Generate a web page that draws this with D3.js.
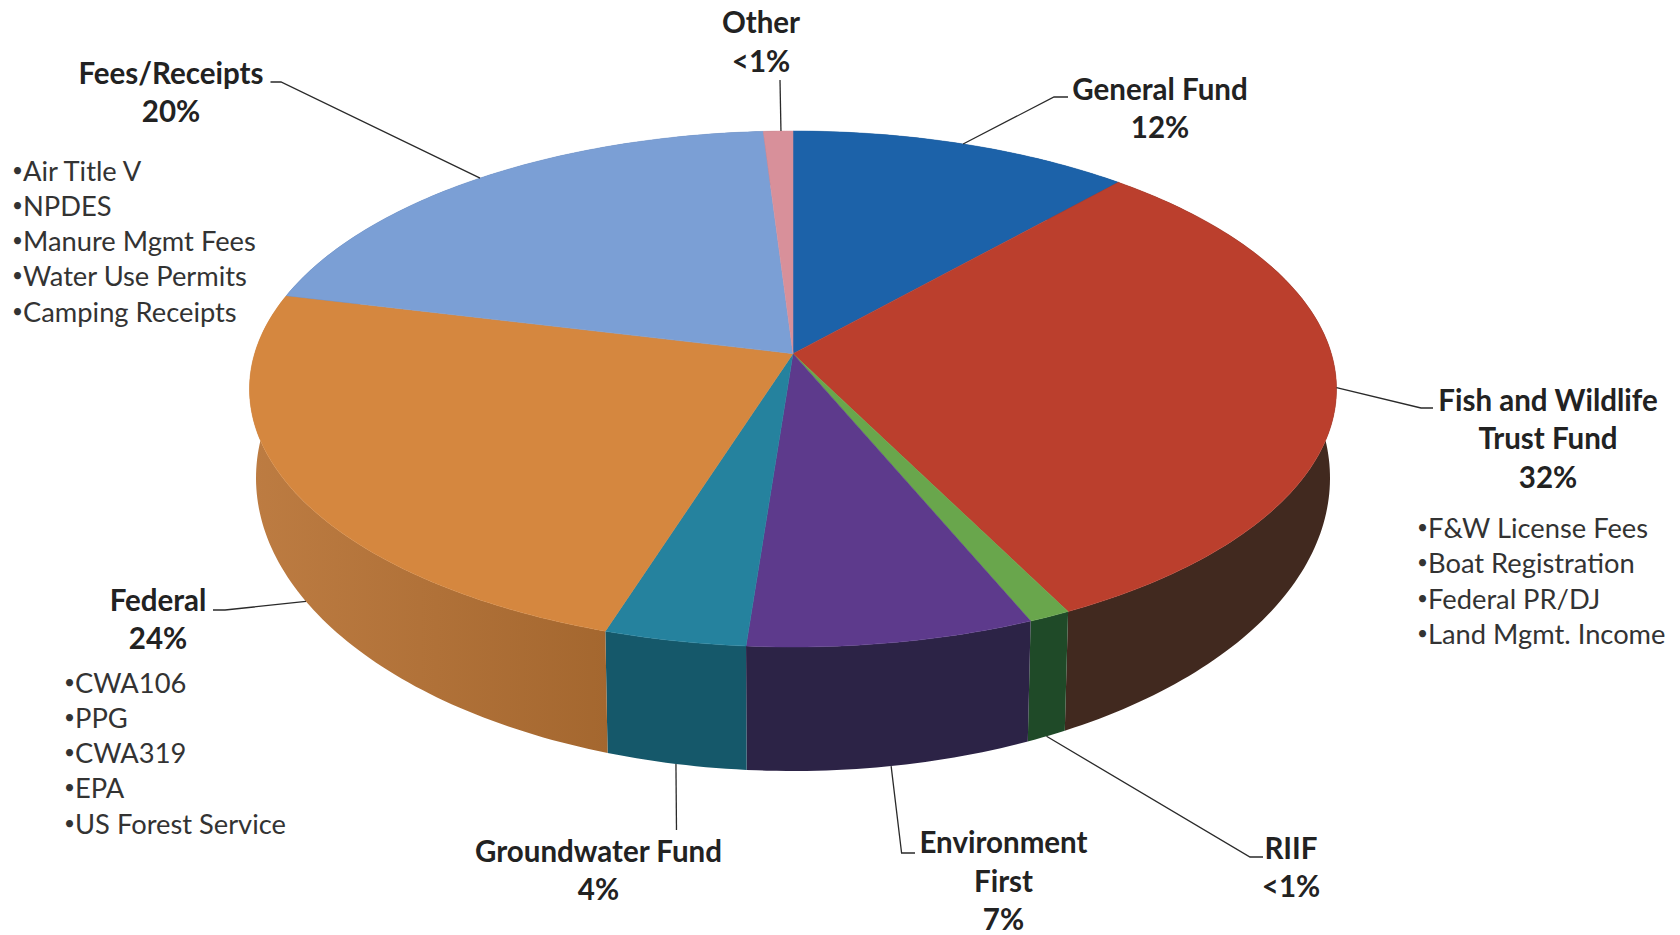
<!DOCTYPE html>
<html>
<head>
<meta charset="utf-8">
<script src="https://cdn.jsdelivr.net/npm/d3@7"></script>
<style>
  html, body { margin: 0; background: #fff; }
  svg { display: block; }
  text { font-family: Lato, "Open Sans", sans-serif; }
</style>
</head>
<body>
<div id="chart"></div>
<script>
// slices, clockwise from 12 o'clock
const categories = ["General Fund", "Fish and Wildlife Trust Fund", "RIIF", "Environment First", "Groundwater Fund", "Federal", "Fees/Receipts", "Other"];
const values = [11.6, 31.0, 1.1, 7.5, 3.7, 23.9, 20.2, 1.0];
const shownPct = ["12%", "32%", "<1%", "7%", "4%", "24%", "20%", "<1%"];

const titleLines = [["General Fund"], ["Fish and Wildlife", "Trust Fund"], ["RIIF"], ["Environment", "First"], ["Groundwater Fund"], ["Federal"], ["Fees/Receipts"], ["Other"]];
const feesItems = ["Air Title V", "NPDES", "Manure Mgmt Fees", "Water Use Permits", "Camping Receipts"];
const federalItems = ["CWA106", "PPG", "CWA319", "EPA", "US Forest Service"];
const fishItems = ["F&W License Fees", "Boat Registration", "Federal PR/DJ", "Land Mgmt. Income"];

const topColors = ["#1c62a9", "#bb3f2d", "#69a64c", "#5d3a8c", "#25829e", "#d5873f", "#7b9fd5", "#d8909a"];
const sideColors = ["#123f6e", "#41291f", "#1f4a28", "#2c2346", "#15586a", "url(#federal-side)", "#4d6a96", "#8c5c63"];

const width = 1680, height = 935;

// top and bottom rim of the drum, as seen in perspective
const topRim = { cx: 793, cy: 389, rx: 543.5, ry: 258 };
const botRim = { cx: 793, cy: 478, rx: 537, ry: 293 };
const tilt = -0.137; // centre of the pie sits above the centre of the ellipse

function project(a, rim) {
    let u = Math.sin(a), v = -Math.cos(a);
    let w = 1 + tilt * v;
    return [rim.cx + rim.rx * u * Math.sqrt(1 - tilt * tilt) / w,
            rim.cy + rim.ry * (v + tilt) / w];
}
function centre(rim) {
    return [rim.cx, rim.cy + rim.ry * tilt];
}

const svg = d3.select("#chart").append("svg")
    .attr("width", width)
    .attr("height", height)
    .attr("viewBox", [0, 0, width, height]);

// orange wall fades a little from left to right
const grad = svg.append("defs").append("linearGradient")
    .attr("id", "federal-side");
grad.append("stop").attr("offset", "0%").attr("stop-color", "#bd7c42");
grad.append("stop").attr("offset", "100%").attr("stop-color", "#a4672f");

const pie = d3.pie().sort(null).value(d => d);
const slices = pie(values);
const top_color = d3.scaleOrdinal().domain(categories).range(topColors);
const side_color = d3.scaleOrdinal().domain(categories).range(sideColors);
const line = d3.line();

function arcAngles(d) {
    let n = Math.max(2, Math.ceil((d.endAngle - d.startAngle) * 60));
    return d3.range(n + 1).map(i => d.startAngle + (d.endAngle - d.startAngle) * i / n);
}

// side wall first, one small quad per step so the outline follows the drum
svg.append("g").selectAll("path")
    .data(slices)
    .join("path")
    .attr("d", d => {
        let angles = arcAngles(d);
        return d3.pairs(angles).map(([a, b]) =>
            line([project(a, topRim), project(b, topRim), project(b, botRim), project(a, botRim)]) + "Z"
        ).join("");
    })
    .attr("fill", (d, i) => side_color(categories[i]));

svg.append("g").selectAll("path")
    .data(slices)
    .join("path")
    .attr("d", d => line([centre(topRim)].concat(arcAngles(d).map(a => project(a, topRim)))) + "Z")
    .attr("fill", (d, i) => top_color(categories[i]))
    .attr("stroke", (d, i) => top_color(categories[i]))
    .attr("stroke-width", 0.5);

// label placement, same order as categories
const titleX = [1160, 1548, 1291, 1003.5, 598.5, 158, 171, 761];
const titleY = [99.5, 410.5, 858.5, 853, 861.5, 610.5, 83.5, 33];
// leader: which rim it leaves from, a small angle off the slice middle, then the points towards the label
const leaderRim = [topRim, topRim, botRim, botRim, botRim, botRim, topRim, topRim];
const leaderOffset = [0, 0, 0, 0, 0, -0.044, 0, 0.006];
const leaderEnd = [
    [[1054, 97], [1068, 97]],
    [[1421, 408], [1433, 408]],
    [[1250, 857], [1263, 857]],
    [[901.6, 853], [915, 853]],
    [[676.5, 830]],
    [[225, 610], [213, 610]],
    [[281, 82], [270.5, 82]],
    [[780, 80]]
];
const lineStep = 38.6;

svg.append("g").selectAll("path")
    .data(slices)
    .join("path")
    .attr("d", (d, i) => line([project((d.startAngle + d.endAngle) / 2 + leaderOffset[i], leaderRim[i])].concat(leaderEnd[i])))
    .attr("fill", "none")
    .attr("stroke", "#2a2a2a")
    .attr("stroke-width", 1.3);

const titles = svg.append("g").selectAll("text")
    .data(categories)
    .join("text")
    .attr("text-anchor", "middle")
    .attr("font-size", 29.5)
    .attr("font-weight", 700)
    .attr("fill", "#222");

titles.selectAll("tspan")
    .data((d, i) => titleLines[i].concat(shownPct[i]).map(t => ({ t, i })))
    .join("tspan")
    .attr("x", d => titleX[d.i])
    .attr("y", (d, j) => titleY[d.i] + j * lineStep)
    .text(d => d.t);

// bullet lists beside three of the labels
function bulletList(items, x, y) {
    let rows = svg.append("g").selectAll("text")
        .data(items)
        .join("text")
        .attr("x", x)
        .attr("y", (d, i) => y + i * 35.3)
        .attr("font-size", 27.3)
        .attr("fill", "#333");
    rows.append("tspan").attr("font-size", 19).attr("dy", -4).text("\u2022");
    rows.append("tspan").attr("dy", 4).text(d => d);
}
bulletList(feesItems, 12, 180.5);
bulletList(federalItems, 64, 692.5);
bulletList(fishItems, 1417, 538);
</script>
</body>
</html>
